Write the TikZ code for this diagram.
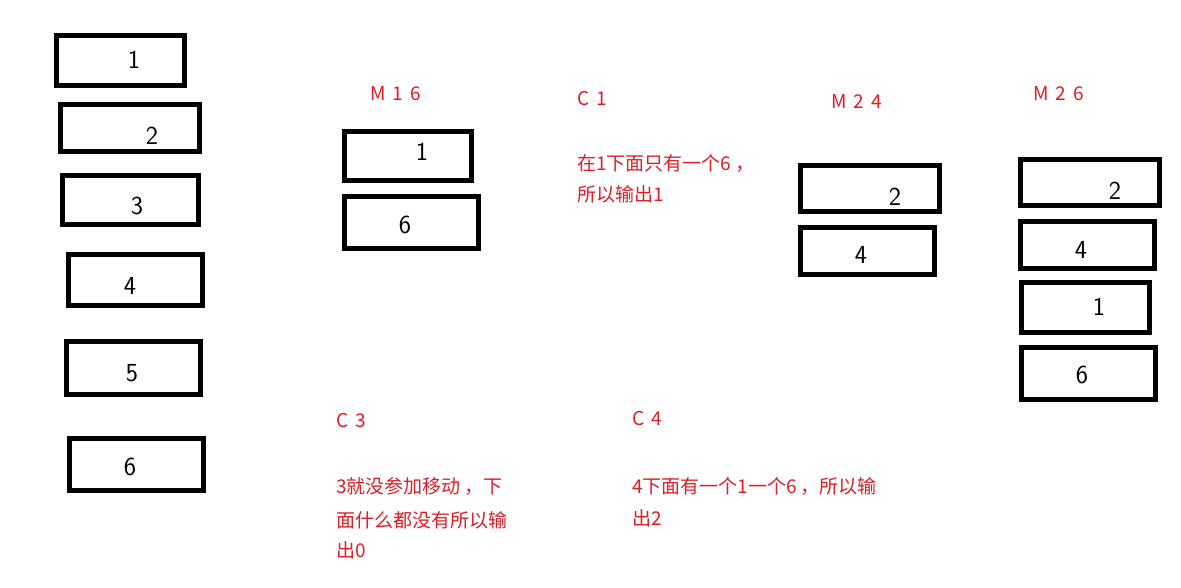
\documentclass[tikz,border=0pt]{standalone}
\usepackage{fontspec}
\newfontfamily\cjk{Noto Sans CJK SC}
\definecolor{myred}{RGB}{222,30,38}
\tikzset{
  box/.style={draw=black, line width=5pt},
  redtxt/.style={text=myred, font=\cjk\fontsize{19}{19}\selectfont, anchor=base west, inner sep=0pt},
  dig/.style={font=\sffamily\fontsize{26}{26}\selectfont, inner sep=0pt, anchor=center}
}
\newcommand{\gp}{\hspace{7pt}}
\begin{document}
\begin{tikzpicture}[x=1pt,y=-1pt]
\useasboundingbox[fill=white] (0,0) rectangle (1181,587);
% left column
\draw[box] (56.5,35.5) rectangle (184.5,85.5);
\draw[box] (60.5,104.5) rectangle (199.5,151.5);
\draw[box] (62.5,175.5) rectangle (198.5,224.5);
\draw[box] (68.5,254.5) rectangle (202.5,305.5);
\draw[box] (66.5,341.5) rectangle (200.5,394.5);
\draw[box] (69.5,438.5) rectangle (203.5,490.5);
\node[dig] (l1) at (134,60) {1};
\node[dig] (l2) at (152,136) {2};
\node[dig] (l3) at (137,206) {3};
\node[dig] (l4) at (130,286) {4};
\node[dig] (l5) at (132,373) {5};
\node[dig] (l6) at (130,467) {6};
% M 1 6
\node[redtxt] (m16) at (370,100) {M\gp1\gp6};
\draw[box] (344.5,131.5) rectangle (471.5,180.5);
\draw[box] (344.5,196.5) rectangle (478.5,248.5);
\node[dig] (a1) at (422,152) {1};
\node[dig] (a6) at (405,225) {6};
% C 1
\node[redtxt] (c1) at (577,105) {C\gp1};
\node[redtxt] (c1a) at (577,170) {在1下面只有一个6\hspace{4pt}，};
\node[redtxt] (c1b) at (577,201) {所以输出1};
% M 2 4
\node[redtxt] (m24) at (831,108) {M\gp2\gp4};
\draw[box] (800.5,165.5) rectangle (939.5,211.5);
\draw[box] (800.5,227.5) rectangle (934.5,274.5);
\node[dig] (b2) at (895,197) {2};
\node[dig] (b4) at (861,255) {4};
% M 2 6
\node[redtxt] (m26) at (1033,100) {M\gp2\gp6};
\draw[box] (1020.5,159.5) rectangle (1159.5,205.5);
\draw[box] (1020.5,221.5) rectangle (1154.5,268.5);
\draw[box] (1021.5,282.5) rectangle (1149.5,332.5);
\draw[box] (1021.5,347.5) rectangle (1155.5,399.5);
\node[dig] (d2) at (1115,191) {2};
\node[dig] (d4) at (1081,250) {4};
\node[dig] (d1) at (1099,307) {1};
\node[dig] (d6) at (1082,375) {6};
% C 3
\node[redtxt] (c3) at (336,427) {C\gp3};
\node[redtxt] (c3a) at (336,493) {3就没参加移动\hspace{4pt}，下};
\node[redtxt] (c3b) at (336,527) {面什么都没有所以输};
\node[redtxt] (c3c) at (336,557) {出0};
% C 4
\node[redtxt] (c4) at (632,425) {C\gp4};
\node[redtxt] (c4a) at (632,493) {4下面有一个1一个6\hspace{4pt}，所以输};
\node[redtxt] (c4b) at (632,525) {出2};
\end{tikzpicture}
\end{document}
